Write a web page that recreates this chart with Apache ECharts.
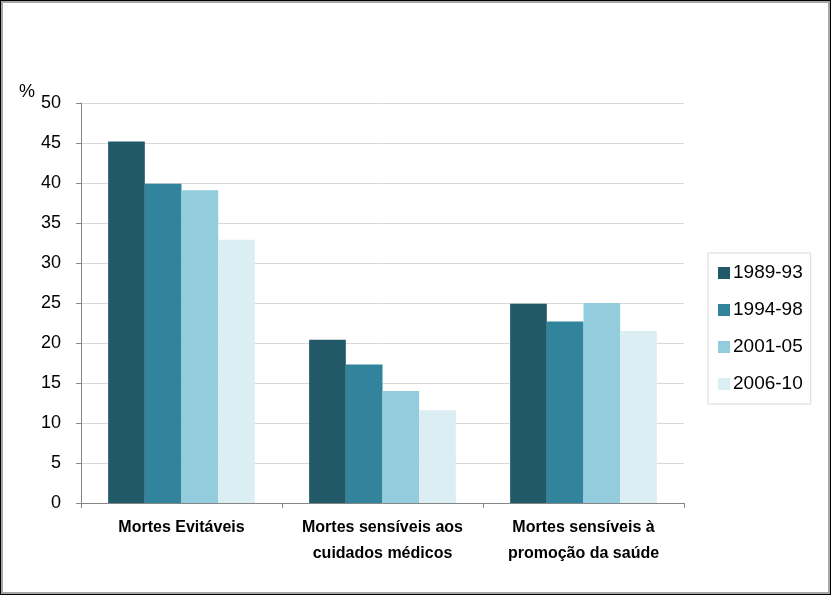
<!DOCTYPE html>
<html>
<head>
<meta charset="utf-8">
<script src="https://cdn.jsdelivr.net/npm/echarts@6/dist/echarts.min.js"></script>
<style>
  html, body { margin: 0; padding: 0; background: #fff; }
  #frame {
    width: 831px; height: 595px; box-sizing: border-box;
    border: 1px solid #000; box-shadow: inset 0 0 0 2px #a6a6a6;
    position: relative;
  }
  #chart { position: absolute; left: 0; top: 0; width: 831px; height: 595px; }
</style>
</head>
<body>
<div id="frame"><div id="chart"></div></div>
<script>
// categorias e séries
const categories = ['Mortes Evitáveis', 'Mortes sensíveis aos\ncuidados médicos', 'Mortes sensíveis à\npromoção da saúde']
const periods = ['1989-93', '1994-98', '2001-05', '2006-10']
const s1989 = [45.2, 20.4, 24.9]
const s1994 = [39.9, 17.3, 22.7]
const s2001 = [39.1, 14.0, 25.0]
const s2006 = [32.9, 11.6, 21.5]
const colors = ['#215968', '#31849b', '#93cddd', '#dbeef4']

const chart = echarts.init(document.getElementById('chart'))
const seriesData = [s1989, s1994, s2001, s2006]

const option = {
  animation: false,
  textStyle: { fontFamily: 'Liberation Sans' },
  title: {
    text: '%', left: 13, top: 77,
    textStyle: { fontSize: 18, fontWeight: 'normal', color: '#000' }
  },
  legend: {
    orient: 'vertical', left: 707, top: 252,
    padding: [9, 8, 9, 10],
    borderColor: '#d9d9d9', borderWidth: 1,
    itemWidth: 12, itemHeight: 12, itemGap: 15,
    icon: 'rect',
    textStyle: { fontSize: 19, color: '#000', lineHeight: 22, padding: [0, 0, 0, -2] },
    data: periods
  },
  grid: { left: 80, right: 148, top: 102, bottom: 93, containLabel: false },
  xAxis: {
    type: 'category',
    data: categories,
    axisLine: { lineStyle: { color: '#868686' } },
    axisTick: { show: true, alignWithLabel: false, length: 5, lineStyle: { color: '#868686' } },
    axisLabel: { interval: 0, fontSize: 16, fontWeight: 'bold', color: '#000', margin: 12, lineHeight: 26 }
  },
  yAxis: {
    type: 'value', min: 0, max: 50, interval: 5,
    axisLine: { show: true, lineStyle: { color: '#868686' } },
    axisTick: { show: true, length: 5, lineStyle: { color: '#868686' } },
    splitLine: { lineStyle: { color: '#d9d9d9' } },
    axisLabel: { fontSize: 18, color: '#000', margin: 20 }
  },
  series: periods.map((p, i) => ({
    name: p, type: 'bar',
    data: seriesData[i],
    barGap: 0, barCategoryGap: '27%',
    itemStyle: { color: colors[i] }
  }))
}
chart.setOption(option)
</script>
</body>
</html>
